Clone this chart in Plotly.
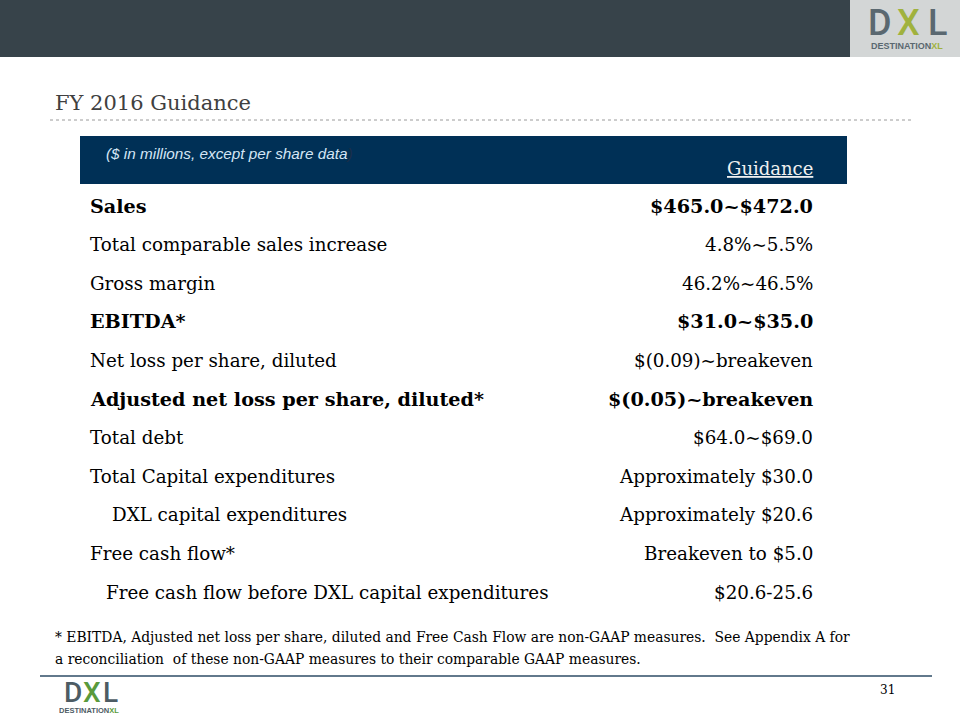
import plotly.graph_objects as go

W, H = 960, 720

# ---- data ----
row_labels = [
    "Sales",
    "Total comparable sales increase",
    "Gross margin",
    "EBITDA*",
    "Net loss per share, diluted",
    "Adjusted net loss per share, diluted*",
    "Total debt",
    "Total Capital expenditures",
    "DXL capital expenditures",
    "Free cash flow*",
    "Free cash flow before DXL capital expenditures",
]
row_values = [
    "$465.0~$472.0",
    "4.8%~5.5%",
    "46.2%~46.5%",
    "$31.0~$35.0",
    "$(0.09)~breakeven",
    "$(0.05)~breakeven",
    "$64.0~$69.0",
    "Approximately $30.0",
    "Approximately $20.6",
    "Breakeven to $5.0",
    "$20.6-25.6",
]
row_bold = [True, False, False, True, False, True, False, False, False, False, False]
row_indent = [0, 0, 0, 0, 0, 0, 0, 0, 22, 0, 16]

title_text = "FY 2016 Guidance"
unit_note = "($ in millions, except per share data"
column_header = "Guidance"
footnote_lines = [
    "* EBITDA, Adjusted net loss per share, diluted and Free Cash Flow are non-GAAP measures.  See Appendix A for",
    "a reconciliation  of these non-GAAP measures to their comparable GAAP measures.",
]
page_number = "31"

SERIF = "DejaVu Serif"
SANS = "Liberation Sans"


def px(x):
    return x / W


def py(y):
    return 1 - y / H


fig = go.Figure()
shapes = []
ann = []

# header bar
shapes.append(dict(type="rect", xref="paper", yref="paper", x0=0, x1=1, y0=py(57), y1=1,
                   fillcolor="#37434a", line=dict(width=0), layer="below"))
# logo box
shapes.append(dict(type="rect", xref="paper", yref="paper", x0=px(850), x1=1, y0=py(57), y1=1,
                   fillcolor="#d3d6d6", line=dict(width=0), layer="below"))


def logo(xs, ymid, size, sub_x, sub_y, sub_size, gray, green):
    parts = [("D", gray), ("X", green), ("L", gray)]
    for (ch, col), xc in zip(parts, xs):
        ann.append(dict(x=px(xc), y=py(ymid), xref="paper", yref="paper",
                        text=ch, showarrow=False, xanchor="center", yanchor="middle",
                        font=dict(family="Roboto", size=size, color=col, weight=500)))
    ann.append(dict(x=px(sub_x), y=py(sub_y), xref="paper", yref="paper",
                    text=f"<b>DESTINATION<span style='color:{green}'>XL</span></b>",
                    showarrow=False, xanchor="center", yanchor="middle",
                    font=dict(family=SANS, size=sub_size, color=gray)))


logo([880, 908, 937], 23, 36, 907, 46, 9, "#5a6870", "#a0b23e")
logo([73, 92, 110], 692, 28, 89, 710, 7.5, "#4d5c64", "#5a9a3c")

# title
ann.append(dict(x=px(53), y=py(103), xref="paper", yref="paper", text=title_text,
                showarrow=False, xanchor="left", yanchor="middle",
                font=dict(family=SERIF, size=21, color="#404040")))
# dotted line
shapes.append(dict(type="line", xref="paper", yref="paper", x0=px(50), x1=px(912),
                   y0=py(120), y1=py(120), line=dict(color="#9a9a9a", width=1, dash="dot")))

# table header
shapes.append(dict(type="rect", xref="paper", yref="paper", x0=px(80), x1=px(847),
                   y0=py(184), y1=py(136), fillcolor="#003056", line=dict(width=0)))
ann.append(dict(x=px(104), y=py(153), xref="paper", yref="paper",
                text="<i>" + unit_note + "<span style='color:#1c2e48'>)</span></i>",
                showarrow=False, xanchor="left", yanchor="middle",
                font=dict(family=SANS, size=15.3, color="#d4e6f5")))
ann.append(dict(x=px(815), y=py(168), xref="paper", yref="paper", text="<u>" + column_header + "</u>",
                showarrow=False, xanchor="right", yanchor="middle",
                font=dict(family=SERIF, size=18, color="#f0f0f0")))

# rows
y0, dy = 206, 38.6
for i, (lab, val, b, ind) in enumerate(zip(row_labels, row_values, row_bold, row_indent)):
    yy = y0 + i * dy
    t_l = f"<b>{lab}</b>" if b else lab
    t_v = f"<b>{val}</b>" if b else val
    fs = 19.2 if b else 18.3
    ann.append(dict(x=px(88 + ind), y=py(yy), xref="paper", yref="paper", text=t_l,
                    showarrow=False, xanchor="left", yanchor="middle",
                    font=dict(family=SERIF, size=fs, color="#000000")))
    ann.append(dict(x=px(815), y=py(yy), xref="paper", yref="paper", text=t_v,
                    showarrow=False, xanchor="right", yanchor="middle",
                    font=dict(family=SERIF, size=fs, color="#000000")))

# footnote
for j, line in enumerate(footnote_lines):
    ann.append(dict(x=px(53), y=py(637 + j * 22), xref="paper", yref="paper", text=line,
                    showarrow=False, xanchor="left", yanchor="middle",
                    font=dict(family=SERIF, size=13.85, color="#000000")))

# bottom line
shapes.append(dict(type="line", xref="paper", yref="paper", x0=px(40), x1=px(932),
                   y0=py(676), y1=py(676), line=dict(color="#2e4d66", width=1.5)))
ann.append(dict(x=px(887), y=py(690), xref="paper", yref="paper", text=page_number,
                showarrow=False, xanchor="center", yanchor="middle",
                font=dict(family=SERIF, size=12, color="#000000")))

fig.update_layout(
    width=W, height=H, margin=dict(l=0, r=0, t=0, b=0),
    paper_bgcolor="white", plot_bgcolor="white",
    xaxis=dict(visible=False, range=[0, 1]), yaxis=dict(visible=False, range=[0, 1]),
    shapes=shapes, annotations=ann, showlegend=False,
)
fig.write_html("out.html", config={"displayModeBar": False},
               post_script="document.body.style.margin='0px';")
